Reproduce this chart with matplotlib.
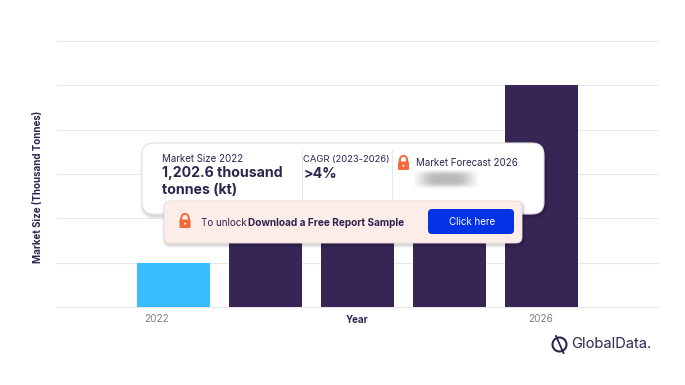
import numpy as np
import matplotlib
matplotlib.use("Agg")
import matplotlib.pyplot as plt
from matplotlib.patches import FancyBboxPatch, Circle, Arc

years = [2022, 2023, 2024, 2025, 2026]
values = [1202.6, 3000, 3600, 4200, 6000]
bar_colors = ["#38BDFF", "#372556", "#372556", "#372556", "#372556"]
tick_years = ["2022", "2026"]
grid_values = [0, 1200, 2400, 3600, 4800, 6000, 7200]

W, H = 685, 385
DARK = "#2F2350"
plt.rcParams["font.family"] = ["Inter", "DejaVu Sans"]
fig = plt.figure(figsize=(W / 100, H / 100), dpi=100, facecolor="white")

# chart axes
ax = fig.add_axes([57 / W, 1 - 307 / H, 601 / W, 266 / H])
x = np.arange(len(years))
ax.bar(x, values, width=0.793, color=bar_colors, zorder=3)
ax.set_xlim(-1.266, 5.266)
ax.set_ylim(0, 7200)
ax.set_yticks(grid_values)
ax.set_yticklabels([])
ax.set_xticks([-0.18, 3.99])
ax.set_xticklabels(tick_years, fontsize=7.2, color="#7F7F7F")
ax.tick_params(length=0, pad=5)
ax.grid(axis="y", color="#E8E8EC", lw=0.8, zorder=0)
for g in ax.get_ygridlines():
    g.set_clip_on(False)
for s in ax.spines.values():
    s.set_visible(False)
ax.set_xlabel("Year", fontsize=7, fontweight="bold", color=DARK)
ax.xaxis.set_label_coords((357 - 57) / 601, -0.03)
ax.set_ylabel("Market Size (Thousand Tonnes)", fontsize=7.0, fontweight="bold", color=DARK)
ax.yaxis.set_label_coords((43 - 57) / 601, (307 - 187) / 266)

# overlay in pixel coordinates
ov = fig.add_axes([0, 0, 1, 1], zorder=5)
ov.axis("off")
ov.patch.set_alpha(0)


def rbox(x0, y0, x1, y1, r, fc, ec="none", lw=0, z=1, alpha=1):
    p = FancyBboxPatch((x0 + r, y0 + r), x1 - x0 - 2 * r, y1 - y0 - 2 * r,
                       boxstyle=f"round,pad={r},rounding_size={r}",
                       fc=fc, ec=ec, lw=lw, zorder=z, alpha=alpha)
    ov.add_patch(p)


def shadow(x0, y0, x1, y1, r, z):
    for g, a in [(3.0, 0.03), (2.0, 0.05), (1.0, 0.07)]:
        rbox(x0 - g + 1, y0 - g + 2, x1 + g + 1, y1 + g + 2, r + g, "#000000", z=z, alpha=a)


def lock(cx, cy, s=1.0, z=8):
    col = "#F4683A"
    ov.add_patch(Arc((cx, cy - 2.2 * s), 7.6 * s, 10 * s, theta1=180, theta2=360, color=col, lw=1.4, zorder=z))
    ov.plot([cx - 3.8 * s, cx - 3.8 * s], [cy - 2.2 * s, cy], color=col, lw=1.4, zorder=z)
    ov.plot([cx + 3.8 * s, cx + 3.8 * s], [cy - 2.2 * s, cy], color=col, lw=1.4, zorder=z)
    rbox(cx - 5.5 * s, cy - 1.5 * s, cx + 5.5 * s, cy + 7 * s, 1.2, col, z=z)
    ov.add_patch(Circle((cx, cy + 2.8 * s), 1.0 * s, fc="white", ec="none", zorder=z + 1))


# main card
shadow(142, 143, 544, 214, 12, 1)
rbox(142, 143, 544, 214, 12, "white", ec="#E4E4E8", lw=0.8, z=2)
ov.plot([302.5, 302.5], [150, 211], color="#E8E8EC", lw=0.7, zorder=3)
ov.plot([392.5, 392.5], [150, 211], color="#E8E8EC", lw=0.7, zorder=3)

ov.text(162, 158.5, "Market Size 2022", fontsize=7.0, color=DARK, va="center", zorder=4)
ov.text(162, 173.5, "1,202.6 thousand", fontsize=10.2, fontweight="bold", color=DARK, va="center", zorder=4)
ov.text(162, 190.5, "tonnes (kt)", fontsize=10.2, fontweight="bold", color=DARK, va="center", zorder=4)
ov.text(303.5, 159.5, "CAGR (2023-2026)", fontsize=6.8, color=DARK, va="center", zorder=4)
ov.text(303.5, 174.5, ">4%", fontsize=10.2, fontweight="bold", color=DARK, va="center", zorder=4)
ov.text(416, 163.5, "Market Forecast 2026", fontsize=7.0, color=DARK, va="center", zorder=4)
lock(403.5, 163, 1.0, z=4)

# blurred figure
yy, xx = np.mgrid[0:40, 0:120]
blob = np.exp(-((np.abs(xx - 59.5) / 48) ** 4) - ((np.abs(yy - 19.5) / 15) ** 4))
rgba = np.zeros((40, 120, 4))
rgba[..., :3] = 0.5
rgba[..., 3] = blob * 0.55
ov.imshow(rgba, extent=(414, 478, 189, 169), zorder=4, aspect="auto", interpolation="bilinear")

# unlock banner
shadow(164, 201, 522, 243, 6, 5)
rbox(164, 201, 522, 243, 6, "#FCEDE8", ec="#EBDDD8", lw=0.6, z=6)
lock(185, 221, 1.0, z=8)
ov.text(201, 222.5, "To unlock", fontsize=7.1, color=DARK, va="center", zorder=8)
ov.text(248, 222.5, "Download a Free Report Sample", fontsize=7.25, fontweight="bold", color=DARK, va="center", zorder=8)
rbox(428, 209, 514, 234, 4, "#0433E6", z=7)
ov.text(472, 222, "Click here", fontsize=7.0, color="white", ha="center", va="center", zorder=8)

# logo
ov.add_patch(Circle((559.5, 344.5), 7, fc="none", ec=DARK, lw=1.5, zorder=8))
ov.plot([556, 563.5], [336, 353], color=DARK, lw=1.3, zorder=9)
ov.text(571, 344.5, "GlobalData.", fontsize=10.6, color=DARK, va="center", zorder=8)

ov.set_xlim(0, W)
ov.set_ylim(H, 0)

fig.savefig("out.png", dpi=100, facecolor="white")
